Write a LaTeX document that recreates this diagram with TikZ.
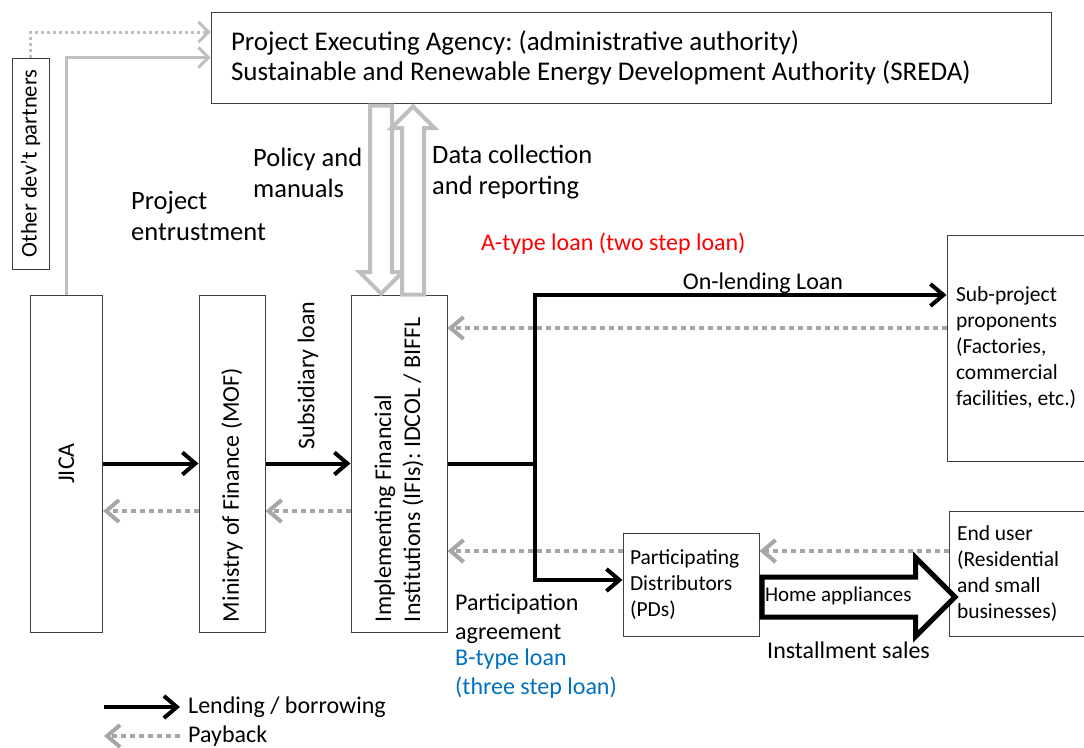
\documentclass[tikz,border=0pt]{standalone}
\usepackage{fontspec}
\setmainfont{Carlito}
\usepackage{graphicx}
\usepackage{xcolor}
\usetikzlibrary{arrows.meta,shapes.arrows,positioning}
\definecolor{paygray}{RGB}{166,166,166}
\definecolor{linegray}{RGB}{191,191,191}
\definecolor{btypeblue}{RGB}{0,112,192}
\newcommand\bigtxt{\fontsize{24}{29}\selectfont}
\newcommand\toptxt{\fontsize{26.5}{31}\selectfont}
\newcommand\boxtxt{\fontsize{21.5}{26}\selectfont}
\frenchspacing

\begin{document}
\begin{tikzpicture}[x=1pt,y=-1pt,font=\bigtxt,
  box/.style={draw=black!75, line width=1pt, inner sep=0pt, align=flush left},
  lbl/.style={inner sep=0pt, align=flush left},
  lend/.style={line width=4pt, -{Straight Barb[length=13pt,width=22pt]}},
  pay/.style={line width=4pt, paygray, dash pattern=on 5pt off 4pt, -{Straight Barb[length=13pt,width=22pt]}},
  entrust/.style={line width=3pt, linegray, -{Straight Barb[length=10pt,width=20pt]}},
  partner/.style={line width=3pt, linegray, dash pattern=on 3pt off 3pt, -{Straight Barb[length=10pt,width=20pt]}},
  hollow/.style={single arrow, draw=linegray, fill=white, line width=4pt, single arrow head extend=10.5pt, single arrow tip angle=90, minimum height=188pt, inner xsep=0pt, inner ysep=9pt, text height=0pt, text depth=0pt},
  sales/.style={single arrow, draw, fill=white, line width=5pt, single arrow head extend=19.5pt, single arrow tip angle=90, minimum height=193pt, text width=147pt, align=flush left, text height=14pt, text depth=5pt, inner ysep=8pt, inner xsep=1pt, font=\fontsize{21}{25}\selectfont}]

\useasboundingbox (0,0) rectangle (1084,747);

\node[box, minimum width=840pt, minimum height=91pt, text width=800pt, font=\fontsize{27}{30}\selectfont] (sreda) at (631,57.5) {Project Executing Agency: (administrative authority)\\Sustainable and Renewable Energy Development Authority (SREDA)};
\node[box, minimum width=37pt, minimum height=211pt, font=\fontsize{22.5}{26}\selectfont] (other) at (30.5,163.5) {\rotatebox{90}{Other dev’t partners}};
\node[box, minimum width=72pt, minimum height=337pt] (jica) at (66.5,463.5) {\rotatebox{90}{JICA}};
\node[box, minimum width=66pt, minimum height=337pt] (mof) at (232,463.5) {\rotatebox{90}{\parbox{317pt}{\raggedright Ministry of Finance (MOF)}}};
\node[box, minimum width=96pt, minimum height=337pt] (ifi) at (399,463.5) {\rotatebox{90}{\parbox{317pt}{\raggedright Implementing Financial\\Institutions (IFIs): IDCOL / BIFFL}}};
\node[box, minimum width=137pt, minimum height=226pt, text width=119pt, font=\boxtxt] (subp) at (1015.5,348) {Sub-project\\proponents\\(Factories,\\commercial\\\mbox{facilities, etc.)}};
\node[box, minimum width=136pt, minimum height=103pt, text width=122pt, font=\boxtxt] (pds) at (691,584.5) {Participating\\Distributors\\(PDs)};
\node[box, minimum width=137pt, minimum height=125pt, text width=121pt, font=\boxtxt] (enduser) at (1017.5,573.5) {End user\\(Residential\\and small\\businesses)};

\node[lbl, anchor=west, font=\toptxt] (policytxt) at (253,172.5) {Policy and\\manuals};
\node[lbl, anchor=west, font=\toptxt] (datatxt) at (432,172.5) {Data collection\\and reporting};
\node[lbl, anchor=west, font=\toptxt] (entrusttxt) at (131,216) {Project\\entrustment};
\node[lbl, anchor=west, red] (atype) at (481,244) {A-type loan (two step loan)};
\node[lbl] (onlend) at (763,283) {On-lending Loan};
\node[lbl, rotate=90] (subsid) at (308,375.5) {Subsidiary loan};
\node[lbl, anchor=west] (partic) at (455,618.5) {Participation\\agreement};
\node[lbl, anchor=west, btypeblue] (btype) at (455,674) {B-type loan\\(three step loan)};
\node[lbl, anchor=west] (install) at (767,650) {Installment sales};
\node[lbl, anchor=west] (lendkey) at (188,707) {Lending / borrowing};
\node[lbl, anchor=west] (paykey) at (188,736) {Payback};

\draw[partner] (other.north) |- ([yshift=25.5pt]sreda.west);
\draw[entrust] (jica.north) |- (sreda.west);

\node[hollow, rotate=-90, anchor=tip] (policyarr) at ([xshift=-18pt,yshift=-2pt]ifi.north) {};
\node[hollow, rotate=90, anchor=tail] (reportarr) at ([xshift=14pt,yshift=-2pt]ifi.north) {};

\draw[lend] (jica.east) -- (mof.west);
\draw[lend] (mof.east) -- (ifi.west);
\coordinate (split) at (535,463.5);
\draw[line width=4pt] (ifi.east) -- (split);
\draw[lend] (split) |- ([yshift=53pt]subp.west);
\draw[lend] (split) |- ([yshift=4.5pt]pds.west);

\coordinate (p1) at ([yshift=-47.5pt]mof.west);
\coordinate (p2) at ([yshift=-47.5pt]ifi.west);
\coordinate (p3) at ([yshift=20pt]subp.west);
\coordinate (p4) at ([yshift=33.5pt]pds.west);
\coordinate (p5) at ([yshift=22.5pt]enduser.west);
\draw[pay] (p1) -- (p1 -| jica.east);
\draw[pay] (p2) -- (p2 -| mof.east);
\draw[pay] (p3) -- (p3 -| ifi.east);
\draw[pay] (p4) -- (p4 -| ifi.east);
\draw[pay] (p5) -- (p5 -| pds.east);

\node[sales, anchor=tail] (homeapp) at ([yshift=-12.5pt]pds.east) {\hspace*{-10pt}Home appliances};

\draw[lend] ([xshift=-84pt]lendkey.west) -- ([xshift=-8pt]lendkey.west);
\draw[pay] ([xshift=-8pt]paykey.west) -- ([xshift=-84pt]paykey.west);
\end{tikzpicture}
\end{document}
